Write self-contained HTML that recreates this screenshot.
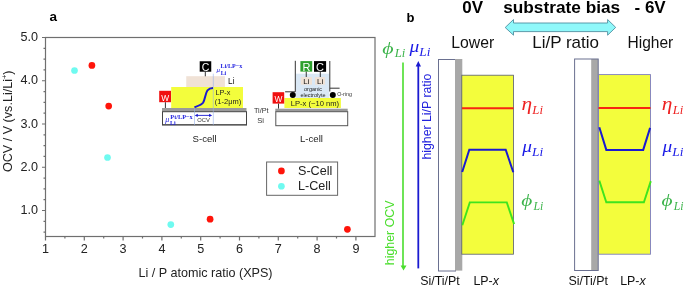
<!DOCTYPE html>
<html><head><meta charset="utf-8"><style>
html,body{margin:0;padding:0;background:#fff;}
svg{display:block;will-change:transform;}
text{font-family:"Liberation Sans",sans-serif;}
.ser{font-family:"Liberation Serif",serif;font-style:italic;}
.sb{font-family:"Liberation Serif",serif;font-weight:bold;}
</style></head><body>
<svg width="685" height="288" viewBox="0 0 685 288">
<rect width="685" height="288" fill="#fff"/>
<!-- ================= PANEL A ================= -->
<text x="49.5" y="20.6" font-size="13.5" font-weight="bold">a</text>
<!-- frame -->
<rect x="45.5" y="37.5" width="329.5" height="199" fill="none" stroke="#6f6f6f" stroke-width="1.2"/>
<g stroke="#6f6f6f" stroke-width="1.2" id="yt">
<path d="M42 37.5H45.5M42 80.75H45.5M42 124H45.5M42 167.25H45.5M42 210.5H45.5"/>
<path d="M43.5 48.3H45.5M43.5 59.1H45.5M43.5 69.9H45.5M43.5 91.6H45.5M43.5 102.4H45.5M43.5 113.2H45.5M43.5 134.8H45.5M43.5 145.6H45.5M43.5 156.4H45.5M43.5 178.1H45.5M43.5 188.9H45.5M43.5 199.7H45.5M43.5 221.3H45.5M43.5 232.1H45.5"/>
<path d="M45.5 236.5V240.5M84.3 236.5V240.5M123.1 236.5V240.5M161.9 236.5V240.5M200.7 236.5V240.5M239.5 236.5V240.5M278.3 236.5V240.5M317.1 236.5V240.5M355.9 236.5V240.5"/>
<path d="M64.9 236.5V238.5M103.7 236.5V238.5M142.5 236.5V238.5M181.3 236.5V238.5M220.1 236.5V238.5M258.9 236.5V238.5M297.7 236.5V238.5M336.5 236.5V238.5"/>
</g>
<g font-size="12.6" fill="#222" text-anchor="end">
<text x="38" y="41">5.0</text>
<text x="38" y="84.3">4.0</text>
<text x="38" y="127.6">3.0</text>
<text x="38" y="170.8">2.0</text>
<text x="38" y="214.1">1.0</text>
</g>
<g font-size="12.6" fill="#222" text-anchor="middle">
<text x="45.5" y="253.4">1</text>
<text x="84.3" y="253.4">2</text>
<text x="123.1" y="253.4">3</text>
<text x="161.9" y="253.4">4</text>
<text x="200.7" y="253.4">5</text>
<text x="239.5" y="253.4">6</text>
<text x="278.3" y="253.4">7</text>
<text x="317.1" y="253.4">8</text>
<text x="355.9" y="253.4">9</text>
</g>
<text x="205.5" y="276.6" font-size="12.6" fill="#222" text-anchor="middle">Li / P atomic ratio (XPS)</text>
<text transform="translate(11.8 121.25) rotate(-90)" font-size="12.6" fill="#222" text-anchor="middle">OCV / V (vs.Li/Li<tspan font-size="7.5" dy="-4.5">+</tspan><tspan dy="4.5">)</tspan></text>
<!-- data -->
<g fill="#6ffaf0">
<circle cx="74.5" cy="70.5" r="3.35"/>
<circle cx="107.5" cy="157.5" r="3.35"/>
<circle cx="170.8" cy="224.6" r="3.35"/>
</g>
<g fill="#ff140a">
<circle cx="91.9" cy="65.4" r="3.35"/>
<circle cx="108.7" cy="106.1" r="3.35"/>
<circle cx="210.1" cy="219.2" r="3.35"/>
<circle cx="347.4" cy="229.3" r="3.35"/>
</g>
<!-- legend -->
<rect x="266.6" y="162" width="71" height="33.3" fill="#fff" stroke="#666" stroke-width="1"/>
<circle cx="281.4" cy="170.9" r="3.35" fill="#ff140a"/>
<circle cx="281.4" cy="186.25" r="3.35" fill="#6ffaf0"/>
<text x="298" y="175.3" font-size="12.6" fill="#222">S-Cell</text>
<text x="298" y="190.2" font-size="12.6" fill="#222">L-Cell</text>

<!-- S-cell inset -->
<g id="scell">
<rect x="186.25" y="76.2" width="38.65" height="10.9" fill="#f0e2d6"/>
<rect x="171.2" y="87" width="71.8" height="21" fill="#f3fd3c"/>
<rect x="199.7" y="61.25" width="11.55" height="10.45" fill="#000"/>
<text x="205.5" y="70.8" font-size="10.5" fill="#fff" text-anchor="middle">C</text>
<path d="M205.3 71.7V76.3" stroke="#333" stroke-width="1"/>
<text x="228.1" y="83.6" font-size="8.2" fill="#111">Li</text>
<rect x="159.2" y="90.8" width="11.8" height="11.4" fill="#f01010"/>
<text x="165.15" y="100.7" font-size="8.4" fill="#fff" text-anchor="middle">W</text>
<path d="M165.4 102.2V108" stroke="#333" stroke-width="1"/>
<rect x="162" y="108" width="84.5" height="3.7" fill="#9a9a9a"/>
<rect x="162.5" y="111.7" width="84" height="13" fill="#fff" stroke="#444" stroke-width="1"/><path d="M162 125.1H247" stroke="#444" stroke-width="0.8"/>
<path d="M213.3 73.7V125M194.5 108V125" stroke="#98b2e8" stroke-width="0.6"/>
<path d="M194.4 107.3C198 106 201.5 105 203.2 102.5C205 99.5 205.3 93.5 207.5 90.3C209 88.6 211 88.1 213 88" fill="none" stroke="#1a1ad0" stroke-width="2"/>
<text x="215.4" y="95.2" font-size="7.3" fill="#222">LP-x</text>
<text x="214.8" y="104.4" font-size="7.5" fill="#222">(1-2μm)</text>
<path d="M196 115.4H211" stroke="#1a1ad0" stroke-width="0.9"/>
<path d="M194.8 115.4l3 -1.6v3.2zM212.1 115.4l-3 -1.6v3.2z" fill="#1a1ad0"/>
<text x="203.6" y="121.7" font-size="5.8" fill="#333" text-anchor="middle">OCV</text>
<g fill="#2222e0">
<text x="216.5" y="71.6" font-size="7" class="ser">μ</text>
<text x="220.6" y="68.2" font-size="6.1" class="sb">Li/LP−x</text>
<text x="220.7" y="74.6" font-size="5.8" class="sb">Li</text>
<text x="165.2" y="122.2" font-size="8" class="ser">μ</text>
<text x="170.3" y="118.8" font-size="6.3" class="sb">Pt/LP−x</text>
<text x="169.9" y="125" font-size="6" class="sb">Li</text>
</g>
<text x="192.6" y="141.6" font-size="9.6" fill="#222">S-cell</text>
</g>
<text x="254" y="112.7" font-size="7.2" fill="#333">Ti/Pt</text>
<text x="257.2" y="123.1" font-size="7.6" fill="#333">Si</text>

<!-- L-cell inset -->
<g id="lcell">
<rect x="295.8" y="73.7" width="33.5" height="24.5" fill="#dae8f5"/>
<path d="M295.3 60.8V91.8H285.1M329.8 61V91.5M329.8 88.2H339.6" fill="none" stroke="#333" stroke-width="1"/>
<rect x="300.4" y="61.1" width="11.8" height="10.5" fill="#2ca02c"/>
<text x="306.5" y="70.8" font-size="11" fill="#fff" text-anchor="middle">R</text>
<rect x="314" y="61.1" width="12.1" height="10.7" fill="#000"/>
<text x="320.1" y="70.8" font-size="11" fill="#fff" text-anchor="middle">C</text>
<path d="M306.25 71.6V77M320.3 71.8V77" stroke="#333" stroke-width="1"/>
<rect x="300.8" y="77.1" width="11.2" height="7.6" fill="#f0e2d6"/>
<rect x="315" y="77.1" width="10.1" height="7.6" fill="#f0e2d6"/>
<text x="306.2" y="83.6" font-size="7.8" fill="#111" text-anchor="middle">Li</text>
<text x="320.1" y="83.6" font-size="7.8" fill="#111" text-anchor="middle">Li</text>
<text x="313.1" y="90.9" font-size="5.5" fill="#1a1a1a" text-anchor="middle">organic</text>
<text x="313" y="97.3" font-size="5.5" fill="#1a1a1a" text-anchor="middle">electrolyte</text>
<circle cx="292.8" cy="95" r="3" fill="#000"/>
<circle cx="332.8" cy="95" r="3" fill="#000"/>
<text x="337.2" y="96.4" font-size="5.3" fill="#333">O-ring</text>
<rect x="284.4" y="98" width="56.5" height="10" fill="#f3fd3c"/>
<text x="314.9" y="105.5" font-size="7.6" fill="#1a1a1a" text-anchor="middle">LP-x (~10 nm)</text>
<rect x="272.6" y="92.2" width="11.6" height="11.4" fill="#f01010"/>
<text x="278.4" y="102.1" font-size="8.4" fill="#fff" text-anchor="middle">W</text>
<path d="M278.5 103.6V108.7" stroke="#333" stroke-width="1"/>
<rect x="275.3" y="108.7" width="72.4" height="3" fill="#9a9a9a"/>
<rect x="275.8" y="111.7" width="71.9" height="14" fill="#fff" stroke="#555" stroke-width="1"/>
<text x="300" y="141.7" font-size="9.6" fill="#222">L-cell</text>
</g>

<!-- ================= PANEL B ================= -->
<text x="406.5" y="21.8" font-size="13" font-weight="bold">b</text>
<text x="462.3" y="13.2" font-size="17" font-weight="bold">0V</text>
<text x="503.2" y="13.2" font-size="17.3" font-weight="bold" textLength="117" lengthAdjust="spacingAndGlyphs">substrate bias</text>
<text x="634.5" y="13.2" font-size="17" font-weight="bold">- 6V</text>
<path d="M505.2 27.5L513.5 19.5V23H607.6V19.5L615.7 27.4L607.6 35.2V31.6H513.5V35.2Z" fill="#8ff8fa" stroke="#4f8ea0" stroke-width="0.9"/>
<text x="451.3" y="48" font-size="16.2" fill="#111" textLength="43" lengthAdjust="spacingAndGlyphs">Lower</text>
<text x="532.2" y="48.3" font-size="17" fill="#111">Li/P ratio</text>
<text x="627.5" y="47.8" font-size="15.8" fill="#111" textLength="45.8" lengthAdjust="spacingAndGlyphs">Higher</text>

<text class="ser" transform="translate(382.35 53.92) scale(1.251 1)" font-size="17.51" fill="#3cb44b">ϕ</text>
<text class="ser" transform="translate(394.73 57.20) scale(1.059 1)" font-size="12.05" fill="#3cb44b">Li</text>
<text class="ser" transform="translate(409.60 52.39) scale(1.165 1)" font-size="16.72" fill="#1a1ae6">μ</text>
<text class="ser" transform="translate(419.33 56.30) scale(1.107 1)" font-size="11.97" fill="#1a1ae6">Li</text>

<path d="M403 62.5V266" stroke="#4ade2c" stroke-width="1.6"/>
<path d="M400.6 265.5L403.5 270.5L406.5 265.5Z" fill="#4ade2c"/>
<path d="M418.3 268.4V66" stroke="#1a1ad0" stroke-width="1.8"/>
<path d="M415.7 66.5L418.3 61L421 66.5Z" fill="#1a1ad0"/>
<text transform="translate(431.4 159.6) rotate(-90)" font-size="12.3" fill="#2222dd">higher Li/P ratio</text>
<text transform="translate(393.8 265.2) rotate(-90)" font-size="12.4" fill="#4ade2c">higher OCV</text>

<!-- left diagram -->
<rect x="438.5" y="59.5" width="17" height="211.5" fill="#fff" stroke="#6a7090" stroke-width="1"/>
<rect x="455" y="59" width="7.3" height="211.6" fill="#a8a8a8"/>
<rect x="461.8" y="75.2" width="51.7" height="179" fill="#f3fd3c" stroke="#555a70" stroke-width="0.8"/>
<path d="M462 108.3H513.5" stroke="#f72612" stroke-width="2.1"/>
<path d="M462.2 172L469.3 149.7H505.7L513.3 172.2" fill="none" stroke="#1a1ad0" stroke-width="2"/>
<path d="M462.3 225.3L469.8 202.4H506.8L514.1 224.1" fill="none" stroke="#3ee41e" stroke-width="1.9"/>

<!-- right diagram -->
<rect x="574.6" y="59" width="23.6" height="211.5" fill="#fff"/>
<rect x="591.2" y="59" width="7" height="211.5" fill="#a8a8a8"/>
<rect x="574.6" y="59" width="23.6" height="211.5" fill="none" stroke="#6a7090" stroke-width="1"/>
<rect x="598.5" y="74.6" width="52" height="179.6" fill="#f3fd3c" stroke="#7c7cc0" stroke-width="0.9"/>
<path d="M598.5 108H650.5" stroke="#f72612" stroke-width="2.1"/>
<path d="M599.3 127.3L606.3 149.9H643.2L650.1 127.9" fill="none" stroke="#1a1ad0" stroke-width="2"/>
<path d="M599.3 180.6L606.3 202.3H643.9L650.8 181.1" fill="none" stroke="#3ee41e" stroke-width="1.9"/>

<!-- labels -->
<text class="ser" transform="translate(521.55 110.04) scale(1.166 1)" font-size="18.38" fill="#ee2222">η</text>
<text class="ser" transform="translate(532.33 113.90) scale(1.066 1)" font-size="11.97" fill="#ee2222">Li</text>
<text class="ser" transform="translate(522.20 152.25) scale(1.114 1)" font-size="17.39" fill="#1a1ae6">μ</text>
<text class="ser" transform="translate(532.03 155.90) scale(1.117 1)" font-size="11.97" fill="#1a1ae6">Li</text>
<text class="ser" transform="translate(521.22 206.33) scale(1.219 1)" font-size="17.46" fill="#3cb44b">ϕ</text>
<text class="ser" transform="translate(533.52 210.00) scale(0.937 1)" font-size="12.58" fill="#3cb44b">Li</text>
<text class="ser" transform="translate(661.85 110.04) scale(1.166 1)" font-size="18.38" fill="#ee2222">η</text>
<text class="ser" transform="translate(672.63 113.90) scale(1.066 1)" font-size="11.97" fill="#ee2222">Li</text>
<text class="ser" transform="translate(662.50 152.25) scale(1.114 1)" font-size="17.39" fill="#1a1ae6">μ</text>
<text class="ser" transform="translate(672.33 155.90) scale(1.117 1)" font-size="11.97" fill="#1a1ae6">Li</text>
<text class="ser" transform="translate(661.52 206.33) scale(1.219 1)" font-size="17.46" fill="#3cb44b">ϕ</text>
<text class="ser" transform="translate(673.82 210.00) scale(0.937 1)" font-size="12.58" fill="#3cb44b">Li</text>
<text x="420.3" y="284.8" font-size="12.4" fill="#111">Si/Ti/Pt</text>
<text x="473.4" y="285.2" font-size="12.4" fill="#111">LP-<tspan font-style="italic">x</tspan></text>
<text x="568.5" y="285.2" font-size="12.4" fill="#111">Si/Ti/Pt</text>
<text x="620.2" y="285.2" font-size="12.4" fill="#111">LP-<tspan font-style="italic">x</tspan></text>
</svg>
</body></html>
